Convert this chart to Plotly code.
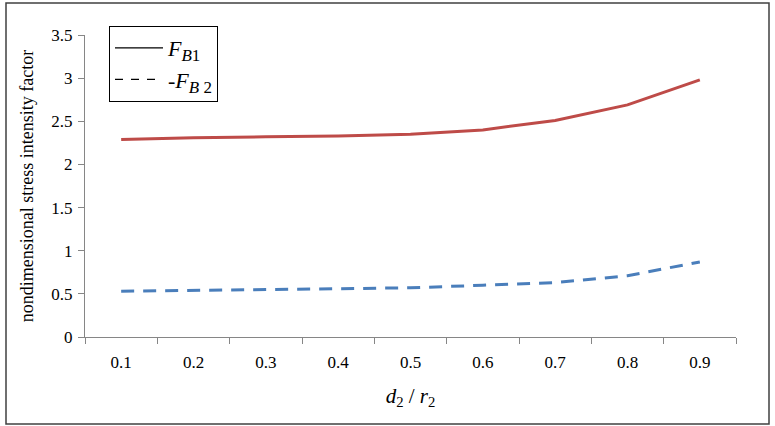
import plotly.graph_objects as go

categories = ["0.1", "0.2", "0.3", "0.4", "0.5", "0.6", "0.7", "0.8", "0.9"]
fb1_values = [2.29, 2.31, 2.32, 2.33, 2.35, 2.40, 2.51, 2.69, 2.98]
fb2_values = [0.53, 0.54, 0.55, 0.56, 0.57, 0.60, 0.63, 0.71, 0.87]
y_ticks = [0, 0.5, 1, 1.5, 2, 2.5, 3, 3.5]
y_tick_labels = ["0", "0.5", "1", "1.5", "2", "2.5", "3", "3.5"]

FONT = "Liberation Serif, Times New Roman, serif"
RED = "#BE4B48"
BLUE = "#4A7EBB"
AXIS = "#868686"

fig = go.Figure()
fig.add_trace(go.Scatter(x=categories, y=fb1_values, mode="lines",
                         line=dict(color=RED, width=3), showlegend=False))
fig.add_trace(go.Scatter(x=categories, y=fb2_values, mode="lines",
                         line=dict(color=BLUE, width=3, dash="13px,9px"), showlegend=False))
# legend-only entries (black samples as in the original)
fig.add_trace(go.Scatter(x=[None], y=[None], mode="lines",
                         line=dict(color="black", width=1.2),
                         name="<i>F</i><sub><span style='font-size:17px'><i>B</i>1</span></sub>"))
fig.add_trace(go.Scatter(x=[None], y=[None], mode="lines",
                         line=dict(color="black", width=1.2, dash="8px,8px"),
                         name="-<i>F</i><sub><span style='font-size:17px'><i>B</i> 2</span></sub>"))

L, R, T, B = 85, 39, 35, 89
W, H = 775, 426
pw, ph = W - L - R, H - T - B

fig.update_layout(
    width=W, height=H,
    margin=dict(l=L, r=R, t=T, b=B),
    paper_bgcolor="white", plot_bgcolor="white",
    font=dict(family=FONT, color="black", size=17),
    xaxis=dict(
        type="category", categoryorder="array", categoryarray=categories,
        range=[-0.5, len(categories) - 0.5],
        showgrid=False, zeroline=False,
        showline=True, linecolor=AXIS, linewidth=1,
        ticks="outside", tickson="boundaries", ticklen=6, tickcolor=AXIS,
        tickfont=dict(size=17, family=FONT), ticklabelstandoff=10,
        title=dict(text="<i>d</i><sub>2</sub> / <i>r</i><sub>2</sub>",
                   font=dict(size=21, family=FONT), standoff=16),
    ),
    yaxis=dict(
        range=[0, 3.5], tickvals=y_ticks, ticktext=y_tick_labels,
        showgrid=False, zeroline=False,
        showline=True, linecolor=AXIS, linewidth=1,
        ticks="outside", ticklen=6, tickcolor=AXIS,
        tickfont=dict(size=17, family=FONT), ticklabelstandoff=2,
        title=dict(text="nondimensional stress intensity factor",
                   font=dict(size=18, family=FONT), standoff=13),
    ),
    legend=dict(
        x=(109 - L) / pw, y=(H - B - 26) / ph, xanchor="left", yanchor="top",
        bgcolor="white", bordercolor="black", borderwidth=1,
        font=dict(size=22, family=FONT),
        itemwidth=48, tracegroupgap=0,
    ),
    shapes=[dict(type="rect", xref="paper", yref="paper",
                 x0=(6 - L) / pw, x1=(769 - L) / pw,
                 y0=(H - B - 424) / ph, y1=(H - B - 3) / ph,
                 line=dict(color="#404040", width=1.5), fillcolor="rgba(0,0,0,0)",
                 layer="below")],
)

fig.write_html("out.html", config={"displayModeBar": False},
               post_script="document.body.style.margin='0';document.body.style.overflow='hidden';")
